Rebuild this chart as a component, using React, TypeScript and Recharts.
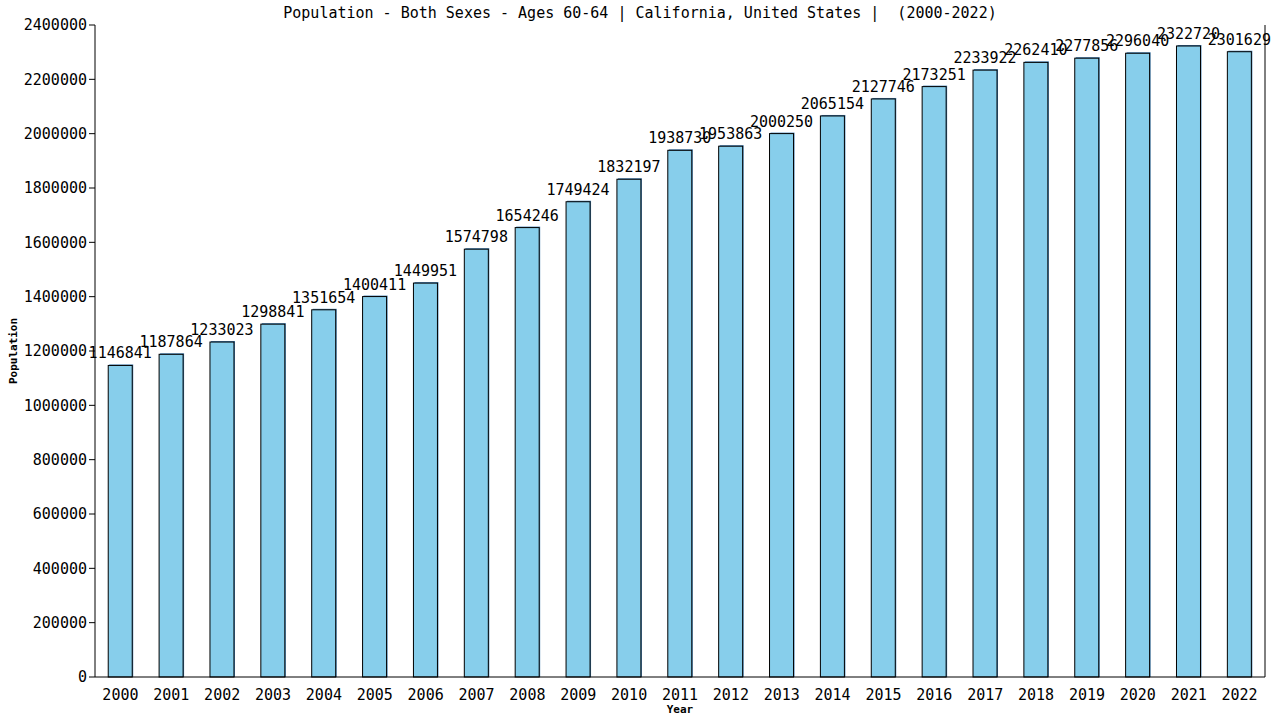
import { Bar, BarChart, LabelList, XAxis, YAxis } from "recharts";

const years = [
  "2000", "2001", "2002", "2003", "2004", "2005", "2006", "2007", "2008", "2009", "2010", "2011",
  "2012", "2013", "2014", "2015", "2016", "2017", "2018", "2019", "2020", "2021", "2022",
];
const population = [
  1146841, 1187864, 1233023, 1298841, 1351654, 1400411, 1449951, 1574798, 1654246, 1749424, 1832197,
  1938730, 1953863, 2000250, 2065154, 2127746, 2173251, 2233922, 2262410, 2277856, 2296040, 2322720,
  2301629,
];
const yTicks = [0, 200000, 400000, 600000, 800000, 1000000, 1200000, 1400000, 1600000, 1800000, 2000000, 2200000, 2400000];

const title = "Population - Both Sexes - Ages 60-64 | California, United States |  (2000-2022)";
const mono = "'DejaVu Sans Mono', monospace";

const data = years.map((year, i) => ({ year, population: population[i] }));

// bar with a thin steel-blue edge peeking out top/right, like the source image
function ShadowBar(props: any) {
  const { x, y, width, height } = props;
  if (!height || height <= 0) return null;
  return (
    <g>
      <rect x={x + 1} y={y - 1} width={width} height={height + 1} fill="#4682b4" />
      <rect x={x} y={y} width={width} height={height} fill="#87ceeb" stroke="#000" strokeWidth={1} />
    </g>
  );
}

export default function App() {
  return (
    <div style={{ position: "absolute", left: 0, top: 0, width: 1280, height: 720, background: "#fff" }}>
      <BarChart
        width={1280}
        height={720}
        data={data}
        barCategoryGap="26%"
        margin={{ top: 25, right: 0, bottom: 0, left: 1 }}
      >
        <text
          x={640}
          y={18}
          textAnchor="middle"
          fontFamily={mono}
          fontSize={15}
          fill="#000"
          style={{ whiteSpace: "pre" }}
        >
          {title}
        </text>
        <text
          x={17}
          y={351}
          transform="rotate(-90 17 351)"
          textAnchor="middle"
          fontFamily={mono}
          fontSize={11}
          fontWeight="bold"
          fill="#000"
        >
          Population
        </text>
        <XAxis
          dataKey="year"
          height={43}
          stroke="#000"
          tickLine={false}
          tick={{ fill: "#000", fontFamily: mono, fontSize: 15 }}
          tickMargin={6}
          label={{ value: "Year", position: "insideBottom", offset: 7, fill: "#000", fontFamily: mono, fontSize: 11, fontWeight: "bold" }}
        />
        <YAxis
          width={94}
          domain={[0, 2400000]}
          ticks={yTicks}
          interval={0}
          stroke="#000"
          tickSize={6}
          tick={{ fill: "#000", fontFamily: mono, fontSize: 15 }}
        />
        <YAxis yAxisId="right" orientation="right" width={15} stroke="#000" tick={false} tickLine={false} />
        <Bar dataKey="population" shape={<ShadowBar />} isAnimationActive={false}>
          <LabelList dataKey="population" position="top" offset={7} fill="#000" fontFamily={mono} fontSize={15} />
        </Bar>
      </BarChart>
    </div>
  );
}
